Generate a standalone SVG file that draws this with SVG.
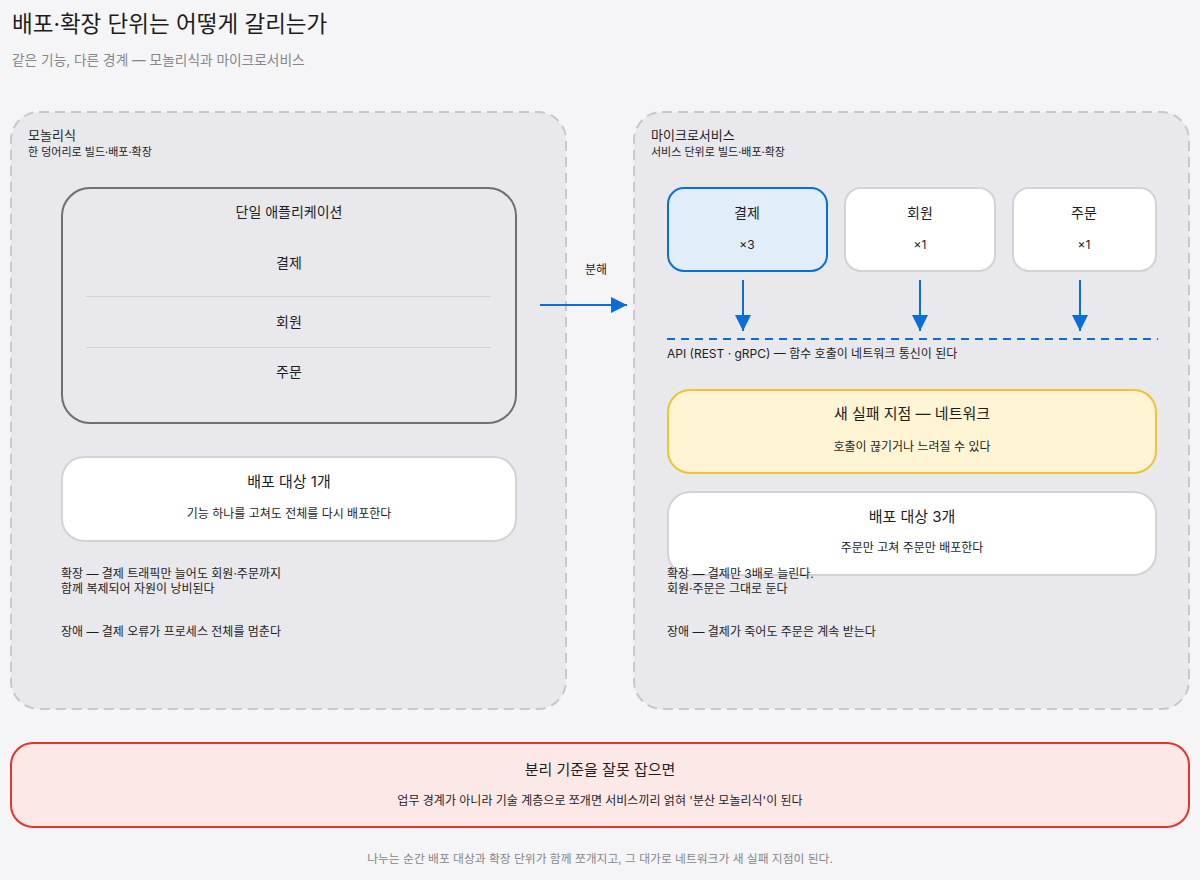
<svg xmlns="http://www.w3.org/2000/svg" width="1200" height="880" viewBox="0 0 1200 880">
<defs>
<style>
text{font-family:"Inter","Noto Sans CJK KR",sans-serif;fill:#1d1d1f}
.title{font-size:22.5px}
.sub{font-size:13.7px;fill:#86868b}
.plabel{font-size:13px}
.psub{font-size:11px}
.h{font-size:15px;text-anchor:middle}
.n{font-size:14px;text-anchor:middle}
.s{font-size:12px;text-anchor:middle}
.t{font-size:12px}
.foot{font-size:11.8px;fill:#86868b;text-anchor:middle}
.panel{fill:#e8e8ed;stroke:#c7c7cc;stroke-width:2;stroke-dasharray:10 6}
.white{fill:#ffffff;stroke:#d2d2d7;stroke-width:2}
.conn{stroke:#0a6ed9;stroke-width:2;fill:none}
</style>
<marker id="ahl" viewBox="0 0 16 16" refX="16" refY="8" markerWidth="16" markerHeight="16" markerUnits="userSpaceOnUse" orient="auto">
<path d="M0,0 L16,8 L0,16 z" fill="#0a6ed9"/>
</marker>
</defs>
<rect width="1200" height="880" fill="#f5f5f7"/>
<text class="title" x="12" y="32">배포·확장 단위는 어떻게 갈리는가</text>
<text class="sub" x="12" y="65">같은 기능, 다른 경계 — 모놀리식과 마이크로서비스</text>

<g id="monolith-panel">
<rect class="panel" x="11" y="112" width="555" height="597" rx="28"/>
<text class="plabel" x="28" y="140">모놀리식</text>
<text class="psub" x="28" y="156">한 덩어리로 빌드·배포·확장</text>
</g>
<g id="single-app">
<rect x="62" y="188" width="454" height="235" rx="28" fill="none" stroke="#6e6e73" stroke-width="2"/>
<text class="n" x="289" y="217">단일 애플리케이션</text>
<text class="n" x="289" y="268">결제</text>
<line x1="86" y1="296.5" x2="491" y2="296.5" stroke="#d2d2d7" stroke-width="1"/>
<text class="n" x="289" y="327">회원</text>
<line x1="86" y1="347.5" x2="491" y2="347.5" stroke="#d2d2d7" stroke-width="1"/>
<text class="n" x="289" y="377">주문</text>
</g>
<g id="deploy-1">
<rect class="white" x="62" y="457" width="454" height="84" rx="22"/>
<text class="h" x="289" y="487">배포 대상 1개</text>
<text class="s" x="289" y="518">기능 하나를 고쳐도 전체를 다시 배포한다</text>
</g>
<g id="monolith-notes">
<text class="t" x="61" y="578">확장 — 결제 트래픽만 늘어도 회원·주문까지</text>
<text class="t" x="61" y="593">함께 복제되어 자원이 낭비된다</text>
<text class="t" x="61" y="636">장애 — 결제 오류가 프로세스 전체를 멈춘다</text>
</g>

<g id="ms-panel">
<rect class="panel" x="634" y="112" width="555" height="597" rx="28"/>
<text class="plabel" x="651" y="140">마이크로서비스</text>
<text class="psub" x="651" y="156">서비스 단위로 빌드·배포·확장</text>
</g>
<g id="svc-payment">
<rect x="668" y="188" width="159" height="83" rx="16" fill="#e1eefa" stroke="#0a6ed9" stroke-width="2"/>
<text class="n" x="747" y="218">결제</text>
<text class="s" x="747" y="249">×3</text>
</g>
<g id="svc-member">
<rect class="white" x="845" y="188" width="150" height="83" rx="16"/>
<text class="n" x="920" y="218">회원</text>
<text class="s" x="920" y="249">×1</text>
</g>
<g id="svc-order">
<rect class="white" x="1013" y="188" width="143" height="83" rx="16"/>
<text class="n" x="1084" y="218">주문</text>
<text class="s" x="1084" y="249">×1</text>
</g>
<g id="api-layer">
<line x1="667" y1="339" x2="1158" y2="339" stroke="#0a6ed9" stroke-width="2" stroke-dasharray="8 6"/>
<text class="t" x="667" y="358">API (REST · gRPC) — 함수 호출이 네트워크 통신이 된다</text>
</g>
<g id="network-failure">
<rect x="668" y="390" width="488" height="83" rx="22" fill="#fff4d4" stroke="#f2c230" stroke-width="2"/>
<text class="h" x="912" y="419">새 실패 지점 — 네트워크</text>
<text class="s" x="912" y="451">호출이 끊기거나 느려질 수 있다</text>
</g>
<g id="deploy-3">
<rect class="white" x="668" y="492" width="488" height="83" rx="22"/>
<text class="h" x="912" y="522">배포 대상 3개</text>
<text class="s" x="912" y="552">주문만 고쳐 주문만 배포한다</text>
</g>
<g id="ms-notes">
<text class="t" x="667" y="578">확장 — 결제만 3배로 늘린다.</text>
<text class="t" x="667" y="593">회원·주문은 그대로 둔다</text>
<text class="t" x="667" y="636">장애 — 결제가 죽어도 주문은 계속 받는다</text>
</g>

<g id="connectors">
<line class="conn" x1="540" y1="305" x2="627" y2="305" marker-end="url(#ahl)"/>
<text class="s" x="596" y="274">분해</text>
<line class="conn" x1="743" y1="280" x2="743" y2="331" marker-end="url(#ahl)"/>
<line class="conn" x1="920" y1="280" x2="920" y2="331" marker-end="url(#ahl)"/>
<line class="conn" x1="1080" y1="280" x2="1080" y2="331" marker-end="url(#ahl)"/>
</g>

<g id="warning">
<rect x="11" y="743" width="1178" height="84" rx="22" fill="#fde8e8" stroke="#e5352f" stroke-width="2"/>
<text class="h" x="600" y="775">분리 기준을 잘못 잡으면</text>
<text class="s" x="600" y="805">업무 경계가 아니라 기술 계층으로 쪼개면 서비스끼리 얽혀 '분산 모놀리식'이 된다</text>
</g>
<text class="foot" x="600" y="863">나누는 순간 배포 대상과 확장 단위가 함께 쪼개지고, 그 대가로 네트워크가 새 실패 지점이 된다.</text>
</svg>
